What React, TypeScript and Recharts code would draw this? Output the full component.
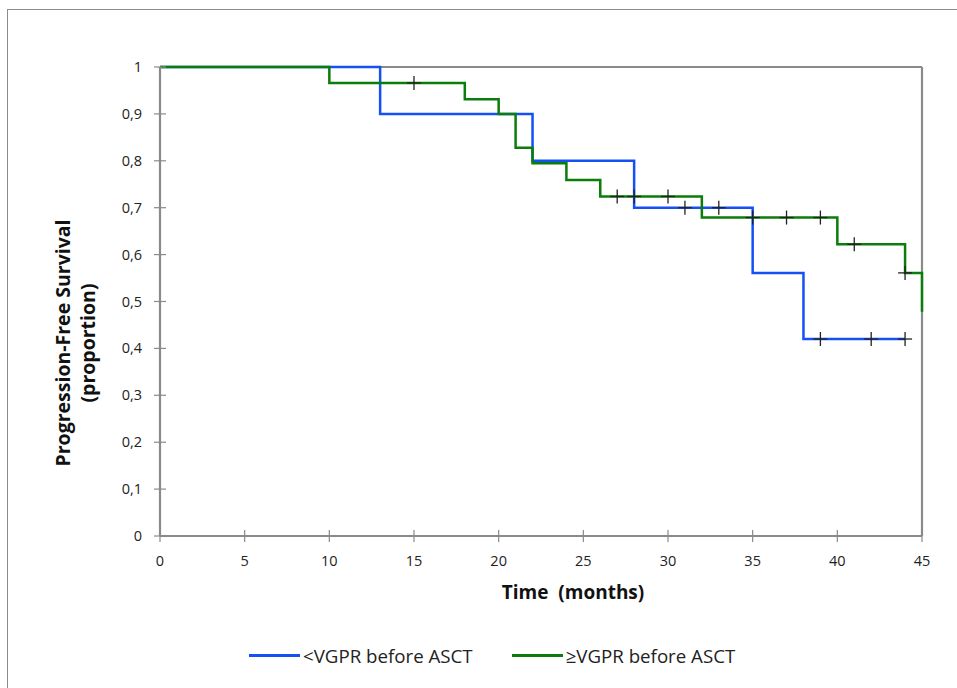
import React from "react";
import {
  ComposedChart,
  Line,
  ReferenceLine,
  Scatter,
  XAxis,
  YAxis,
} from "recharts";

const FONT = "'Open Sans', 'Noto Sans', sans-serif";
const AXIS = "#8a8a8a";
const BLUE = "#1450f5";
const GREEN = "#0a7d0a";

// <VGPR before ASCT
const lowTimes = [0, 13, 22, 28, 35, 38, 44];
const lowSurv = [1, 0.9, 0.8, 0.7, 0.561, 0.42, 0.42];
const lowCensorTimes = [31, 33, 39, 42, 44];
const lowCensorSurv = [0.7, 0.7, 0.42, 0.42, 0.42];

// >=VGPR before ASCT
const highTimes = [0, 10, 18, 20, 21, 22, 24, 26, 32, 40, 44, 45, 45];
const highSurv = [
  1, 0.966, 0.931, 0.9, 0.828, 0.795, 0.759, 0.724, 0.679, 0.622, 0.561, 0.561,
  0.478,
];
const highCensorTimes = [15, 27, 28, 30, 35, 37, 39, 41, 44];
const highCensorSurv = [
  0.966, 0.724, 0.724, 0.724, 0.679, 0.679, 0.679, 0.622, 0.561,
];

const xTicks = [0, 5, 10, 15, 20, 25, 30, 35, 40, 45];
const yTicks = [0, 0.1, 0.2, 0.3, 0.4, 0.5, 0.6, 0.7, 0.8, 0.9, 1];

const legendItems = [
  { label: "<VGPR before ASCT", color: BLUE },
  { label: "\u2265VGPR before ASCT", color: GREEN },
];

function toPoints(times: number[], surv: number[]) {
  return times.map((t, i) => ({ x: t, y: surv[i] }));
}

function formatY(v: number): string {
  if (v === 0 || v === 1) return String(v);
  return v.toFixed(1).replace(".", ",");
}

function YTick(props: any) {
  const { x, y, payload } = props;
  return (
    <g>
      <line x1={x - 6} x2={x + 6} y1={y} y2={y} stroke={AXIS} strokeWidth={1.2} />
      <text
        x={x - 18}
        y={y}
        dy="0.35em"
        textAnchor="end"
        fontSize={14.5}
        fontFamily={FONT}
        fill="#222"
      >
        {formatY(payload.value)}
      </text>
    </g>
  );
}

function XTick(props: any) {
  const { x, y, payload } = props;
  return (
    <g>
      <line x1={x} x2={x} y1={y - 6} y2={y + 6} stroke={AXIS} strokeWidth={1.2} />
      <text
        x={x}
        y={y + 25}
        dy="0.35em"
        textAnchor="middle"
        fontSize={14.5}
        fontFamily={FONT}
        fill="#222"
      >
        {payload.value}
      </text>
    </g>
  );
}

function CensorMark(props: any) {
  const { cx, cy } = props;
  if (cx == null || cy == null) return <g />;
  return (
    <g stroke="#222" strokeWidth={1.3}>
      <line x1={cx - 7} x2={cx + 7} y1={cy} y2={cy} />
      <line x1={cx} x2={cx} y1={cy - 7} y2={cy + 7} />
    </g>
  );
}

export default function App() {
  return (
    <div
      style={{
        position: "absolute",
        left: 0,
        top: 0,
        width: 957,
        height: 688,
        overflow: "hidden",
        background: "#fff",
        fontFamily: FONT,
      }}
    >
      <div
        style={{
          position: "absolute",
          left: 7,
          top: 9,
          width: 1000,
          height: 800,
          borderLeft: "1.5px solid #8c8c8c",
          borderTop: "1.5px solid #8c8c8c",
        }}
      />
      <div style={{ position: "absolute", left: 0, top: 0 }}>
        <ComposedChart
          width={957}
          height={688}
          margin={{ top: 67, right: 35, left: 100, bottom: 122 }}
        >
          <XAxis
            type="number"
            dataKey="x"
            domain={[0, 45]}
            ticks={xTicks}
            interval={0}
            height={30}
            tickSize={0}
            tickMargin={0}
            tickLine={false}
            axisLine={{ stroke: AXIS, strokeWidth: 2.2 }}
            tick={<XTick />}
            allowDuplicatedCategory={false}
          />
          <YAxis
            type="number"
            dataKey="y"
            domain={[0, 1]}
            ticks={yTicks}
            interval={0}
            width={60}
            tickSize={0}
            tickMargin={0}
            tickLine={false}
            axisLine={{ stroke: AXIS, strokeWidth: 2.2 }}
            tick={<YTick />}
          />
          <ReferenceLine y={1} stroke={AXIS} strokeWidth={2.2} />
          <ReferenceLine x={45} stroke={AXIS} strokeWidth={2.2} />
          <Line
            data={toPoints(lowTimes, lowSurv)}
            dataKey="y"
            type="stepAfter"
            stroke={BLUE}
            strokeWidth={2.5}
            dot={false}
            activeDot={false}
            isAnimationActive={false}
          />
          <Line
            data={toPoints(highTimes, highSurv)}
            dataKey="y"
            type="stepAfter"
            stroke={GREEN}
            strokeWidth={2.5}
            dot={false}
            activeDot={false}
            isAnimationActive={false}
          />
          <Scatter
            data={toPoints(lowCensorTimes, lowCensorSurv)}
            dataKey="y"
            shape={<CensorMark />}
            isAnimationActive={false}
          />
          <Scatter
            data={toPoints(highCensorTimes, highCensorSurv)}
            dataKey="y"
            shape={<CensorMark />}
            isAnimationActive={false}
          />
        </ComposedChart>
      </div>
      <div
        style={{
          position: "absolute",
          left: 573,
          top: 592,
          transform: "translate(-50%, -50%)",
          fontWeight: 700,
          fontSize: 19,
          whiteSpace: "pre",
          color: "#111",
        }}
      >
        {"Time  (months)"}
      </div>
      <div
        style={{
          position: "absolute",
          left: 75,
          top: 343,
          transform: "translate(-50%, -50%) rotate(-90deg)",
          fontWeight: 700,
          fontSize: 19.5,
          lineHeight: "25px",
          textAlign: "center",
          whiteSpace: "nowrap",
          color: "#111",
        }}
      >
        Progression-Free Survival
        <br />
        (proportion)
      </div>
      <div
        style={{
          position: "absolute",
          left: 249,
          top: 643,
          display: "flex",
          gap: 39,
          fontSize: 18.7,
          color: "#222",
        }}
      >
        {legendItems.map((item) => (
          <div
            key={item.label}
            style={{ display: "flex", alignItems: "center", gap: 3 }}
          >
            <span
              style={{
                display: "inline-block",
                width: 51,
                height: 2.5,
                background: item.color,
              }}
            />
            <span>{item.label}</span>
          </div>
        ))}
      </div>
    </div>
  );
}
